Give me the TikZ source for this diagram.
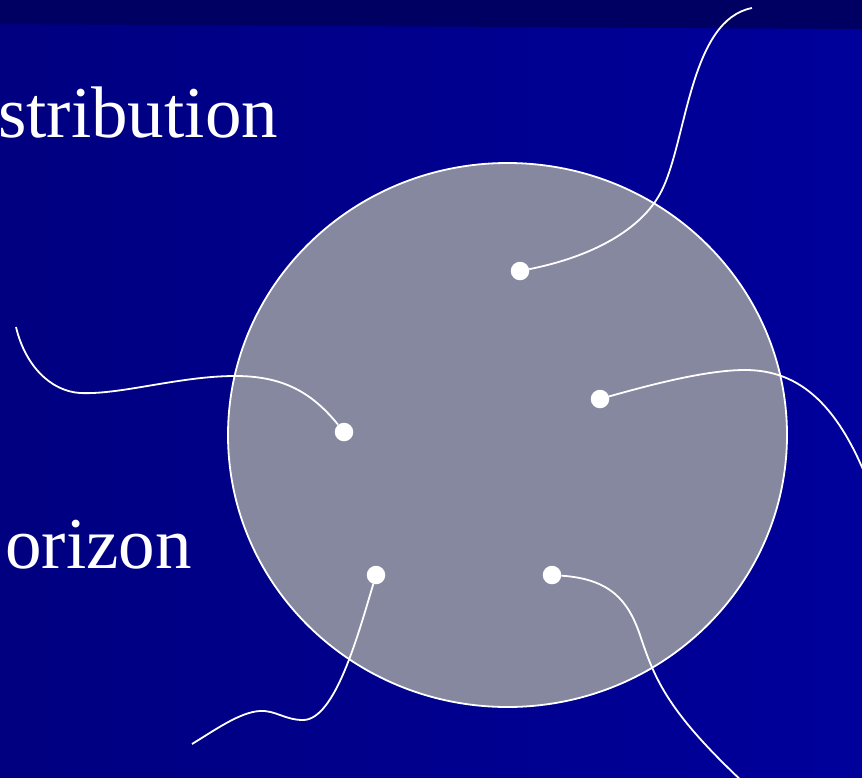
\documentclass[tikz,border=0pt]{standalone}
\usepackage{fontspec}
\setmainfont{Liberation Serif}
\usetikzlibrary{positioning}
\definecolor{navyleft}{RGB}{0,0,128}
\definecolor{navyright}{RGB}{0,0,155}
\definecolor{band}{RGB}{0,0,98}
\definecolor{disc}{RGB}{134,136,160}

\tikzset{
  dot/.style={circle, fill=white, inner sep=0pt, minimum size=18.5pt},
  wire/.style={draw=white, line width=1.8pt},
  word/.style={text=white, inner sep=0pt, anchor=base west, font=\fontsize{73}{80}\selectfont}
}

\begin{document}
\begin{tikzpicture}[x=1pt, y=-1pt]
\useasboundingbox (0,0) rectangle (862,777);
\clip (0,0) rectangle (862,777);
% background and title band
\shade[left color=navyleft, right color=navyright] (0,0) rectangle (862,777);
\fill[band] (0,0) -- (862,0) -- (862,29) -- (0,24) -- cycle;
% left hand words
\node[word] (w1) at (-2,137) {stribution};
\node[word] (w2) at (5,568) {orizon};
% the disc
\draw[draw=white, fill=disc, line width=1.8pt] (507.5,435) ellipse [x radius=279.5, y radius=272];
% points inside the disc
\node[dot] (p1) at (520,271) {};
\node[dot] (p2) at (344,432) {};
\node[dot] (p3) at (600,399) {};
\node[dot] (p4) at (376,575) {};
\node[dot] (p5) at (552,575) {};
% loose ends
\coordinate (e1) at (752,8);
\coordinate (e2) at (16,327);
\coordinate (e3) at (872,492);
\coordinate (e4) at (192,744);
\coordinate (e5) at (745,784);
% wires leaving the points
\draw[wire] (p1) .. controls (600,255) and (645,225) .. (662,190)
  .. controls (687,139) and (690,20) .. (e1);
\draw[wire] (p2) .. controls (310,390) and (280,376) .. (235,376)
  .. controls (180,376) and (120,395) .. (80,393)
  .. controls (50,391) and (25,365) .. (e2);
\draw[wire] (p3) .. controls (660,382) and (710,370) .. (745,370)
  .. controls (800,370) and (840,405) .. (e3);
\draw[wire] (p4) .. controls (358,635) and (335,720) .. (303,720)
  .. controls (285,720) and (275,710) .. (260,711)
  .. controls (240,712) and (215,730) .. (e4);
\draw[wire] (p5) .. controls (610,579) and (628,600) .. (640,635)
  .. controls (655,680) and (668,712) .. (e5);
\end{tikzpicture}
\end{document}
